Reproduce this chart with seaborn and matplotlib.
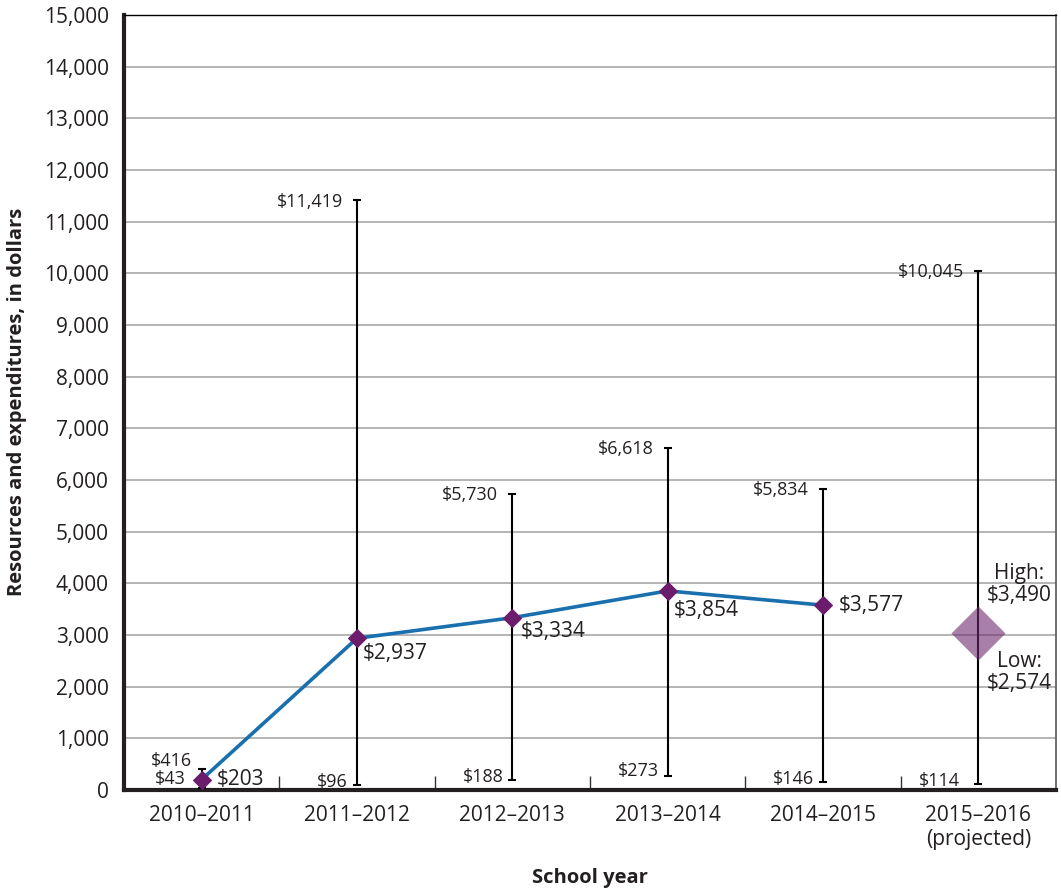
import matplotlib
matplotlib.use("Agg")
import matplotlib.pyplot as plt
from matplotlib.ticker import FuncFormatter
import seaborn as sns
import numpy as np
import pandas as pd

# ---------------- data ----------------
years = ["2010–2011", "2011–2012", "2012–2013", "2013–2014", "2014–2015",
         "2015–2016\n(projected)"]
means = [203, 2937, 3334, 3854, 3577]
highs = [416, 11419, 5730, 6618, 5834, 10045]
lows = [43, 96, 188, 273, 146, 114]
proj_high = 3490
proj_low = 2574
proj_mid = (proj_high + proj_low) / 2

# ---------------- style ----------------
sns.set_style("white")
plt.rcParams['font.family'] = ['Open Sans', 'DejaVu Sans']
TXT = '#231f20'

W, H = 1061, 892
fig = plt.figure(figsize=(W / 100, H / 100), dpi=100)
ax = fig.add_axes([124 / W, 1 - 790 / H, (1056 - 124) / W, (790 - 15) / H])

pos = np.arange(len(years))

ax.set_xlim(-0.5, 5.5)
ax.set_ylim(0, 15000)
ax.set_yticks(range(0, 15001, 1000))
ax.yaxis.set_major_formatter(FuncFormatter(lambda v, p: f"{int(v):,}"))
ax.grid(axis='y', color='#a8a8a8', lw=1.2)
ax.grid(axis='x', visible=False)
ax.set_axisbelow(True)

# error bars (low to high range)
ax.errorbar(pos, lows, yerr=[np.zeros(len(lows)), np.array(highs) - np.array(lows)],
            fmt='none', ecolor='black', elinewidth=1.5, capsize=3.2, capthick=1.5,
            zorder=3)

# mean line
df = pd.DataFrame({"pos": pos[:len(means)], "mean": means})
sns.lineplot(data=df, x="pos", y="mean", ax=ax, color='#1a6fae', lw=2.6,
             marker='D', markersize=9.5, markerfacecolor='#6b1d6b',
             markeredgecolor='#6b1d6b', zorder=4)

# projected diamond
sns.scatterplot(x=[pos[-1]], y=[proj_mid], ax=ax, marker='D', s=760,
                color='#6e2a70', alpha=0.6, linewidth=0, zorder=5)

# ---------------- labels ----------------
mean_off = [(15, 0), (6, -15), (8, -14), (6, -20), (16, 0)]
for i, m in enumerate(means):
    ax.annotate(f"${m:,}", xy=(pos[i], m), xytext=mean_off[i],
                textcoords='offset pixels', ha='left', va='center',
                fontsize=15, color=TXT, zorder=6)

high_off = [(-10, 8), (-14, -2), (-14, -1), (-14, -1), (-14, -1), (-14, -1)]
low_off = [(-16, 9), (-9, 3), (-9, 3), (-9, 5), (-9, 3), (-18, 3)]
for i in range(len(years)):
    ax.annotate(f"${highs[i]:,}", xy=(pos[i], highs[i]), xytext=high_off[i],
                textcoords='offset pixels', ha='right', va='center',
                fontsize=13, color=TXT)
    ax.annotate(f"${lows[i]:,}", xy=(pos[i], lows[i]), xytext=low_off[i],
                textcoords='offset pixels', ha='right', va='center',
                fontsize=13, color=TXT)

ax.annotate(f"High:\n${proj_high:,}", xy=(pos[-1], proj_mid), xytext=(41, 49),
            textcoords='offset pixels', ha='center', va='center',
            multialignment='center', linespacing=1.1, fontsize=15, color=TXT)
ax.annotate(f"Low:\n${proj_low:,}", xy=(pos[-1], proj_mid), xytext=(41, -39),
            textcoords='offset pixels', ha='center', va='center',
            multialignment='center', linespacing=1.1, fontsize=15, color=TXT)

# ---------------- axes ----------------
ax.set_xticks(pos[:-1] + 0.5)
ax.set_xticklabels([])
ax.set_xticks(pos, minor=True)
ax.set_xticklabels(years, minor=True, fontsize=15, color=TXT, linespacing=1.15)
ax.tick_params(axis='x', which='major', direction='in', length=10, width=1,
               color='#333333', bottom=True)
ax.tick_params(axis='x', which='minor', length=0, pad=11)
ax.tick_params(axis='y', length=0, pad=11, labelsize=15, labelcolor=TXT)
ax.set_xlabel("")
ax.set_ylabel("")

for s in ['left', 'bottom']:
    ax.spines[s].set_linewidth(3)
    ax.spines[s].set_color(TXT)
ax.spines['top'].set_linewidth(1)
ax.spines['top'].set_color('black')
ax.spines['right'].set_linewidth(1.2)
ax.spines['right'].set_color('#555555')
for s in ax.spines.values():
    s.set_visible(True)

fig.text(17 / W, 1 - 402 / H, "Resources and expenditures, in dollars",
         rotation=90, ha='center', va='center', fontsize=14.5, fontweight='bold',
         color=TXT)
fig.text(590 / W, 1 - 878 / H, "School year", ha='center', va='center',
         fontsize=14.5, fontweight='bold', color=TXT)

fig.savefig("out.png", dpi=100)
